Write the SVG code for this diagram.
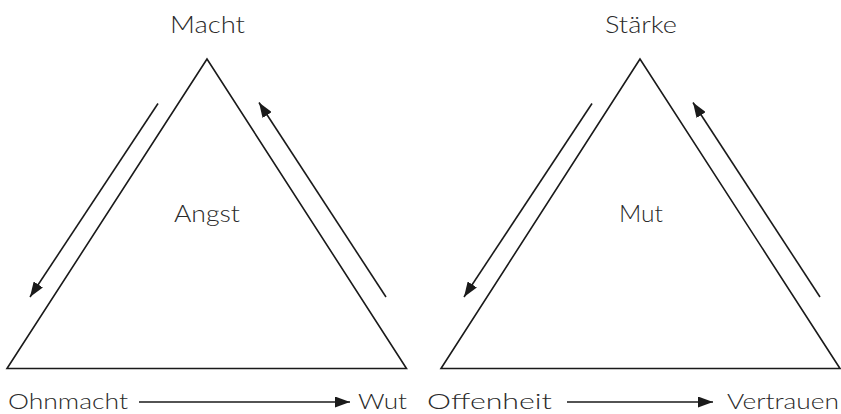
<svg xmlns="http://www.w3.org/2000/svg" width="841" height="414" viewBox="0 0 841 414">
<style>
.t{font-family:"Lato","Liberation Sans",sans-serif;font-weight:300;font-size:24px;fill:#2a2a2a;}
.b{font-size:22px;}
.tri{fill:none;stroke:#1a1a1a;stroke-width:1.6;stroke-linejoin:miter;}
.c{stroke:#1a1a1a;stroke-width:1.6;fill:none;marker-end:url(#ah);}
</style>
<defs>
<marker id="ah" viewBox="0 0 15 11" refX="15" refY="5.5" markerWidth="15" markerHeight="11" markerUnits="userSpaceOnUse" orient="auto">
<path d="M0,0 L15,5.5 L0,11 Z" fill="#1a1a1a"/>
</marker>
</defs>
<rect width="841" height="414" fill="#fff"/>
<g id="left-triangle">
<polygon class="tri" points="207,59 7,368.5 406.5,368.5"/>
<text class="t" x="170" y="33" textLength="75" lengthAdjust="spacingAndGlyphs">Macht</text>
<text class="t" x="174" y="222" textLength="66" lengthAdjust="spacingAndGlyphs">Angst</text>
<text class="t b" x="8" y="408.5" textLength="120" lengthAdjust="spacingAndGlyphs">Ohnmacht</text>
<text class="t b" x="358" y="408.5" textLength="49" lengthAdjust="spacingAndGlyphs">Wut</text>
</g>
<g id="right-triangle">
<polygon class="tri" points="640,59 441,368.5 840,368.5"/>
<text class="t" x="605" y="33" textLength="72" lengthAdjust="spacingAndGlyphs">Stärke</text>
<text class="t" x="619" y="222" textLength="44" lengthAdjust="spacingAndGlyphs">Mut</text>
<text class="t b" x="427" y="408.5" textLength="125" lengthAdjust="spacingAndGlyphs">Offenheit</text>
<text class="t b" x="727" y="408.5" textLength="112" lengthAdjust="spacingAndGlyphs">Vertrauen</text>
</g>
<g id="connectors">
<line class="c" x1="158" y1="103.5" x2="30" y2="297"/>
<line class="c" x1="386" y1="297" x2="259" y2="102.5"/>
<line class="c" x1="139" y1="402" x2="350" y2="402"/>
<line class="c" x1="592" y1="103.5" x2="464" y2="297"/>
<line class="c" x1="820" y1="297" x2="693" y2="102.5"/>
<line class="c" x1="567" y1="402" x2="713" y2="402"/>
</g>
</svg>
